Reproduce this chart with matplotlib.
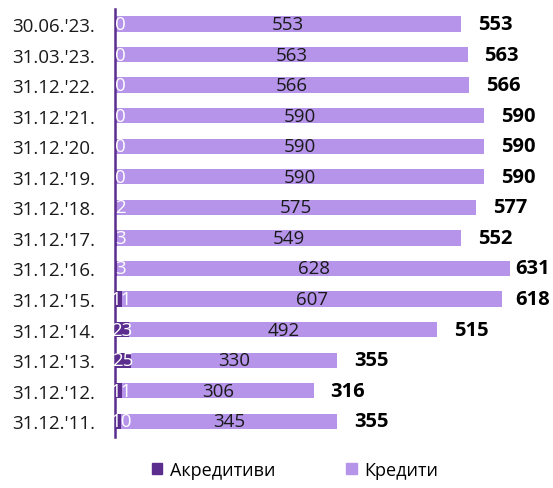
import matplotlib
matplotlib.use("Agg")
import matplotlib.pyplot as plt
from matplotlib.patches import Patch

categories = ["30.06.'23.", "31.03.'23.", "31.12.'22.", "31.12.'21.", "31.12.'20.",
              "31.12.'19.", "31.12.'18.", "31.12.'17.", "31.12.'16.", "31.12.'15.",
              "31.12.'14.", "31.12.'13.", "31.12.'12.", "31.12.'11."]
akreditivi = [0, 0, 0, 0, 0, 0, 2, 3, 3, 11, 23, 25, 11, 10]
krediti = [553, 563, 566, 590, 590, 590, 575, 549, 628, 607, 492, 330, 306, 345]
totals = [553, 563, 566, 590, 590, 590, 577, 552, 631, 618, 515, 355, 316, 355]
series_names = ["Акредитиви", "Кредити"]

dark = "#5B2D8E"
light = "#B594EA"

plt.rcParams['font.family'] = ['Open Sans', 'DejaVu Sans']

W, H = 553, 489
fig = plt.figure(figsize=(W / 100, H / 100), dpi=100)
px_per_unit = 0.6262
left_px, top_px, bottom_px = 115, 9.7, 437.6
ax_w_px = 700 * px_per_unit
ax = fig.add_axes([left_px / W, (H - bottom_px) / H, ax_w_px / W, (bottom_px - top_px) / H])

y = list(range(len(categories)))
ax.barh(y, akreditivi, height=0.5, color=dark)
ax.barh(y, krediti, left=akreditivi, height=0.5, color=light)

label_gap = 17 / px_per_unit          # gap between bar end and total label
label_max_left = (515 - left_px) / px_per_unit  # labels are kept inside the chart area

for i in y:
    a = akreditivi[i]
    k = krediti[i]
    ax.text(max(a / 2, 9), i, str(a), color="white", ha="center", va="center", fontsize=13.5)
    ax.text(a + k / 2, i, str(k), color="#1a1a1a", ha="center", va="center", fontsize=13.5)
    tx = min(a + k + label_gap, label_max_left)
    ax.text(tx, i, str(totals[i]), ha="left", va="center", fontsize=14.5,
            fontweight="bold", color="black")

ax.set_xlim(0, 700)
ax.set_ylim(len(categories) - 0.5, -0.5)
ax.set_yticks(y)
ax.set_yticklabels(categories, fontsize=13.5, color="#1a1a1a")
ax.tick_params(axis="y", length=0, pad=14.4)
ax.set_xticks([])
for s in ["top", "right", "bottom"]:
    ax.spines[s].set_visible(False)
ax.spines["left"].set_color(dark)
ax.spines["left"].set_linewidth(1.8)

handles = [Patch(color=dark), Patch(color=light)]
fig.legend(handles, series_names, loc="center", bbox_to_anchor=(295 / W, 1 - 471 / H),
           ncol=2, frameon=False, fontsize=13, handlelength=0.6, handleheight=0.6,
           handletextpad=0.4, columnspacing=3.95)

fig.savefig("out.png", dpi=100)
